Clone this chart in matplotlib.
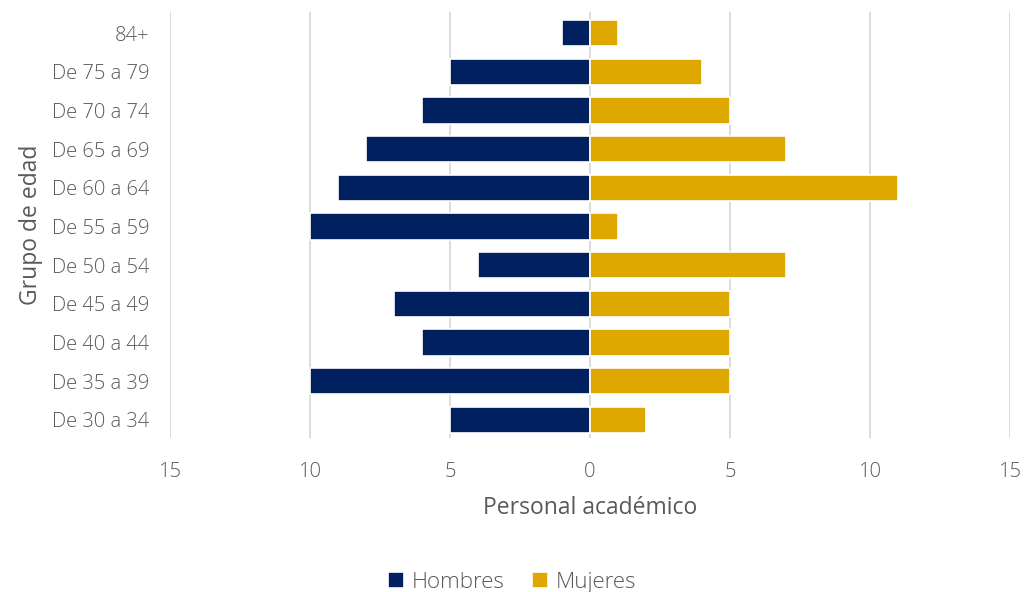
import numpy as np
import matplotlib.pyplot as plt

# Pirámide de personal académico por grupo de edad
grupos = ["De 30 a 34", "De 35 a 39", "De 40 a 44", "De 45 a 49", "De 50 a 54",
          "De 55 a 59", "De 60 a 64", "De 65 a 69", "De 70 a 74", "De 75 a 79", "84+"]
hombres = [5, 10, 6, 7, 4, 10, 9, 8, 6, 5, 1]
mujeres = [2, 5, 5, 5, 7, 1, 11, 7, 5, 4, 1]
ticks = [-15, -10, -5, 0, 5, 10, 15]

navy = '#002060'
gold = '#DFA800'
gris = '#595959'

plt.rcParams['font.family'] = ['Open Sans', 'DejaVu Sans']
plt.rcParams['font.weight'] = 'light'

fig = plt.figure(figsize=(10.24, 5.92), dpi=100)
ax = fig.add_axes([170 / 1024, 1 - 438 / 592, 840 / 1024, 426 / 592])

y = np.arange(len(grupos))
ax.barh(y, -np.array(hombres), height=0.68, color=navy, edgecolor='white', linewidth=1.2, label='Hombres', zorder=3)
ax.barh(y, mujeres, height=0.68, color=gold, edgecolor='white', linewidth=1.2, label='Mujeres', zorder=3)

ax.set_xlim(-15, 15)
ax.set_ylim(-0.47, 10.55)
ax.set_xticks(ticks)
ax.set_xticklabels([str(abs(t)) for t in ticks])
ax.set_yticks(y)
ax.set_yticklabels(grupos)
ax.tick_params(axis='both', length=0, labelsize=14.5, labelcolor=gris)
ax.tick_params(axis='x', pad=17)
ax.tick_params(axis='y', pad=15)

for t in ticks:
    ax.axvline(t, color='#D9D9D9', linewidth=1.3, zorder=1)
for s in ax.spines.values():
    s.set_visible(False)

ax.set_xlabel('Personal académico', fontsize=16.5, color=gris, labelpad=10)
ax.set_ylabel('Grupo de edad', fontsize=16.5, color=gris, labelpad=6)

fig.legend(loc='lower center', bbox_to_anchor=(0.5, -0.035), ncol=2, frameon=False,
           fontsize=16, labelcolor=gris, handlelength=0.75, handleheight=0.75,
           handletextpad=0.35, columnspacing=1.2)

fig.savefig('out.png', dpi=100)
